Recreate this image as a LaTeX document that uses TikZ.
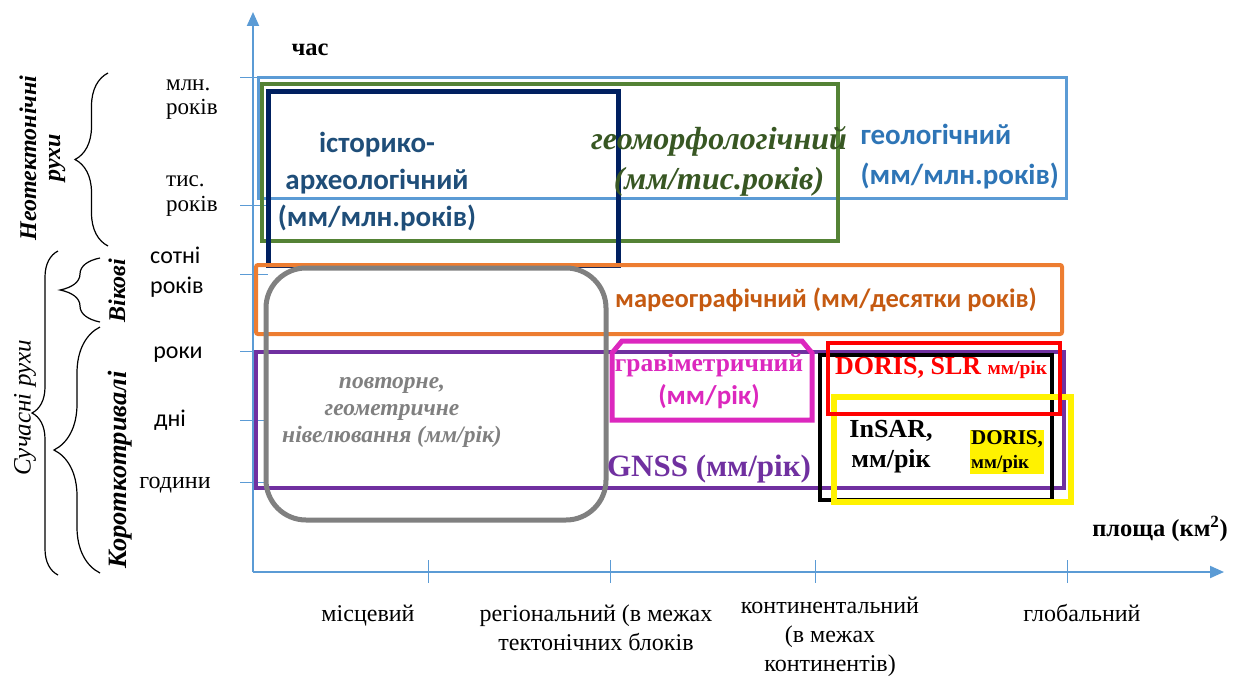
\documentclass[tikz,border=0pt]{standalone}
\usepackage{fontspec}
\setmainfont{Liberation Serif}
\newfontfamily\calib{Carlito}
\usetikzlibrary{arrows.meta,decorations.pathreplacing}
\definecolor{axisblue}{HTML}{5B9BD5}
\definecolor{geotext}{HTML}{2E75B6}
\definecolor{navy}{HTML}{002060}
\definecolor{navytext}{HTML}{1F4E79}
\definecolor{grn}{HTML}{548235}
\definecolor{grntext}{HTML}{385723}
\definecolor{orng}{HTML}{ED7D31}
\definecolor{orngtext}{HTML}{C55A11}
\definecolor{purp}{HTML}{7030A0}
\definecolor{magent}{HTML}{DC28BE}
\definecolor{gry}{HTML}{808080}
\newcommand\fsz[2]{\fontsize{#1}{#2}\selectfont}
\tikzset{
  axis/.style={axisblue,line width=2pt},
  tick/.style={axisblue,line width=1pt},
  box/.style={line width=4pt},
  brc/.style={decorate,line width=1.2pt},
  lbl/.style={font=\fsz{24}{29},align=center,inner sep=0pt},
  lblsans/.style={font=\calib\fsz{24}{30},align=left,inner sep=0pt},
  vlbl/.style={rotate=90,font=\bfseries\itshape\fsz{24}{28},inner sep=0pt}
}
\begin{document}
\begin{tikzpicture}[x=1pt,y=-1pt]
  \useasboundingbox (0,0) rectangle (1238,677);
  % axes
  \coordinate (o) at (253,572);
  \coordinate (ytop) at (253,12);
  \coordinate (xend) at (1224,572);
  \draw[axis,-{Triangle[length=14pt,width=12pt]}] (o) -- (ytop);
  \draw[axis,-{Triangle[length=14pt,width=12pt]}] (o) -- (xend);
  \foreach \ty in {77,205,274,351,420,482}
    \draw[tick] (240,\ty) -- (268,\ty);
  \foreach \tx in {428,610,815,1067}
    \draw[tick] (\tx,560) -- (\tx,583);
  % boxes
  \draw[box,axisblue,line width=3pt] (258,77) rectangle (1066,198);
  \draw[box,grn] (262,84) rectangle (838,241);
  \draw[box,navy,line width=5pt] (268,91) rectangle (618,265);
  \draw[box,orng,rounded corners=2pt] (256,265) rectangle (1062,334);
  \draw[box,purp] (256,352) rectangle (1064,488);
  \draw[box,gry,line width=5pt,rounded corners=40pt] (266,268) rectangle (606,520);
  \draw[box,magent,line width=5pt] (612,420) -- (612,353) -- (622,341) -- (802,341)
    -- (812,353) -- (812,420) -- cycle;
  \draw[box,black] (820,355) rectangle (1052,500);
  \draw[box,yellow,line width=6pt] (834,397) rectangle (1071,502);
  \draw[box,red] (828,343) rectangle (1060,414);
  % box labels
  \node[font=\calib\bfseries\fsz{29}{37},text=navytext,align=center] (hist) at (377,182)
    {історико-\\археологічний\\(мм/млн.років)};
  \node[font=\bfseries\itshape\fsz{32}{40},text=grntext,align=center] (geom) at (719,161)
    {геоморфологічний\\(мм/тис.років)};
  \node[font=\calib\bfseries\fsz{29}{40},text=geotext,align=left,anchor=west] (geol) at (857,157)
    {геологічний\\(мм/млн.років)};
  \node[font=\calib\bfseries\fsz{26.5}{30},text=orngtext] (mareo) at (826,300)
    {мареографічний (мм/десятки років)};
  \node[font=\bfseries\itshape\fsz{23.5}{27},text=gry,align=center] (nivel) at (392,412)
    {повторне,\\геометричне\\нівелювання (мм/рік)};
  \node[font=\bfseries\fsz{25.5}{33},text=magent,align=center] (grav) at (709,381)
    {гравіметричний\\{\calib\fsz{27}{33}(мм/рік)}};
  \node[font=\bfseries\fsz{31}{34},text=purp] (gnss) at (709,469) {GNSS (мм/рік)};
  \node[font=\bfseries\fsz{26}{30},text=red,anchor=west,inner sep=0pt] (slr) at (835,368)
    {DORIS, SLR {\fsz{19.5}{22}мм/рік}};
  \node[font=\bfseries\fsz{26}{30},align=center] (insar) at (891,447) {InSAR,\\мм/рік};
  \node[font=\bfseries\fsz{21}{24},fill=yellow,align=left,inner sep=1pt] (doris) at (1007,452)
    {DORIS,\\{\fsz{19}{22}мм/рік}};
  % axis labels
  \node[font=\bfseries\fsz{24.5}{28}] (time) at (310,50) {час};
  \node[font=\bfseries\fsz{24.5}{28}] (area) at (1160,529) {площа (км\textsuperscript{2})};
  \node[lbl,font=\fsz{23}{24},align=left,anchor=west] (mln) at (166,100) {млн.\\років};
  \node[lbl,font=\fsz{23}{25},align=left,anchor=west] (tys) at (166,196) {тис.\\років};
  \node[lblsans,anchor=west] (sotni) at (150,272) {сотні\\років};
  \node[lblsans] (roky) at (178,355) {роки};
  \node[lblsans] (dni) at (170,420) {дні};
  \node[lbl] (hod) at (175,485) {години};
  \node[lbl] (local) at (368,616) {місцевий};
  \node[lbl] (region) at (596,628) {регіональний (в межах\\тектонічних блоків};
  \node[lbl] (contin) at (830,637) {континентальний\\(в межах\\континентів)};
  \node[lbl] (glob) at (1082,613) {глобальний};
  % braces
  \draw[brc,decoration={brace,amplitude=33pt}] (108,246) -- (108,73);
  \draw[brc,decoration={brace,amplitude=26pt}] (58,575) -- (58,251);
  \draw[brc,decoration={brace,amplitude=40pt}] (100,322) -- (100,258);
  \draw[brc,decoration={brace,amplitude=46pt}] (100,573) -- (100,327);
  \node[vlbl] (neot) at (28,158) {Неотектонічні};
  \node[vlbl] (neotr) at (57,158) {рухи};
  \node[vlbl,font=\itshape\fsz{25}{28}] (suchas) at (25,408) {Сучасні рухи};
  \node[vlbl] (vikovi) at (117,291) {Вікові};
  \node[vlbl,font=\bfseries\itshape\fsz{26.5}{30}] (korot) at (120,470) {Короткотривалі};
\end{tikzpicture}
\end{document}
